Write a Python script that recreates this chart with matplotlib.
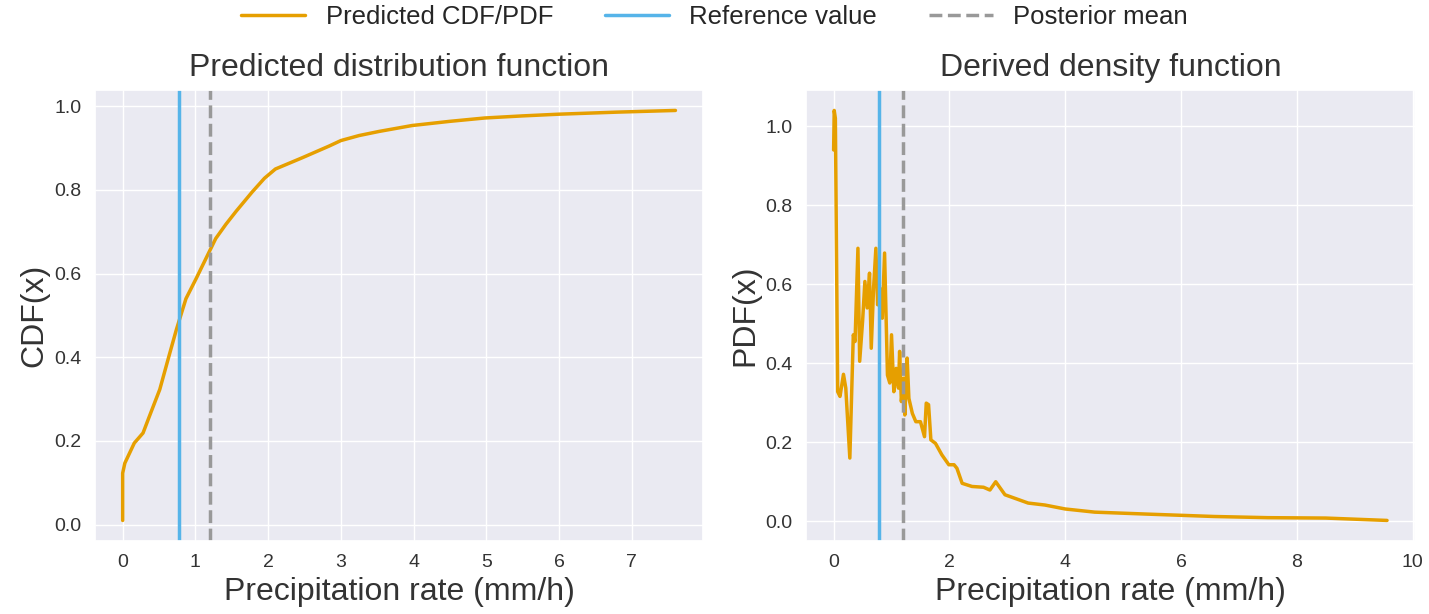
import numpy as np
import matplotlib
matplotlib.use("Agg")
import matplotlib.pyplot as plt
import seaborn as sns
from matplotlib.lines import Line2D

sns.set_theme(style="darkgrid")
plt.rcParams['font.family'] = ['Liberation Sans', 'DejaVu Sans']

# predicted CDF
cdf_x = [0.0, 0.0, 0.03, 0.16, 0.28, 0.37, 0.51, 0.64, 0.74, 0.87, 1.01, 1.17, 1.28, 1.42,
         1.56, 1.78, 1.95, 2.1, 2.47, 2.84, 3.0, 3.25, 3.53, 3.98, 4.5, 4.98, 5.5, 5.99, 6.8, 7.6]
cdf_y = [0.01, 0.123, 0.147, 0.195, 0.219, 0.26, 0.323, 0.405, 0.467, 0.54, 0.588, 0.645, 0.684, 0.718,
         0.749, 0.795, 0.828, 0.85, 0.877, 0.905, 0.918, 0.93, 0.94, 0.954, 0.964, 0.972, 0.977, 0.981, 0.986, 0.99]

# derived PDF
pdf_x = [0.0, 0.01, 0.03, 0.07, 0.11, 0.17, 0.21, 0.28, 0.34, 0.37, 0.42, 0.45, 0.5, 0.54,
         0.58, 0.62, 0.65, 0.69, 0.73, 0.76, 0.8, 0.84, 0.88, 0.93, 0.97, 1.0, 1.04, 1.08,
         1.12, 1.14, 1.17, 1.21, 1.23, 1.27, 1.3, 1.36, 1.42, 1.5, 1.57, 1.6, 1.64, 1.68,
         1.76, 1.87, 1.99, 2.08, 2.13, 2.22, 2.39, 2.59, 2.7, 2.8, 2.96, 3.36, 3.65, 4.0,
         4.51, 5.42, 6.57, 7.5, 8.5, 9.56]
pdf_y = [0.94, 1.04, 1.02, 0.328, 0.316, 0.372, 0.337, 0.16, 0.472, 0.455, 0.691, 0.405, 0.506, 0.607,
         0.54, 0.628, 0.438, 0.59, 0.691, 0.548, 0.59, 0.514, 0.679, 0.37, 0.35, 0.472, 0.328, 0.387,
         0.337, 0.43, 0.303, 0.362, 0.269, 0.413, 0.311, 0.273, 0.252, 0.252, 0.214, 0.299, 0.295, 0.206,
         0.197, 0.168, 0.143, 0.143, 0.134, 0.096, 0.088, 0.086, 0.079, 0.1, 0.067, 0.046, 0.041, 0.031,
         0.023, 0.018, 0.012, 0.009, 0.008, 0.002]

ref_value = 0.78
post_mean = 1.2

c_pred = '#E69F00'
c_ref = '#56B4E9'
c_mean = '#999999'
c_text = '#333333'

fig = plt.figure(figsize=(14.29, 6.14), dpi=100)
ax1 = fig.add_axes([0.0665, 0.119, 0.4255, 0.7345])
ax2 = fig.add_axes([0.564, 0.119, 0.426, 0.7345])

lw = 2.5
ax1.plot(cdf_x, cdf_y, color=c_pred, lw=lw)
ax1.axvline(ref_value, color=c_ref, lw=lw)
ax1.axvline(post_mean, color=c_mean, lw=lw, ls='--')
ax1.set_title('Predicted distribution function', fontsize=23, color=c_text, pad=10)
ax1.set_ylabel('CDF(x)', fontsize=23, color=c_text)
ax1.set_xlabel('Precipitation rate (mm/h)', fontsize=23, color=c_text)

ax2.plot(pdf_x, pdf_y, color=c_pred, lw=lw)
ax2.axvline(ref_value, color=c_ref, lw=lw)
ax2.axvline(post_mean, color=c_mean, lw=lw, ls='--')
ax2.set_title('Derived density function', fontsize=23, color=c_text, pad=10)
ax2.set_ylabel('PDF(x)', fontsize=23, color=c_text)
ax2.set_xlabel('Precipitation rate (mm/h)', fontsize=23, color=c_text)
ax2.set_xticks([0, 2, 4, 6, 8, 10])

for ax in (ax1, ax2):
    ax.tick_params(labelsize=14, labelcolor=c_text)

handles = [Line2D([], [], color=c_pred, lw=lw),
           Line2D([], [], color=c_ref, lw=lw),
           Line2D([], [], color=c_mean, lw=lw, ls='--')]
fig.legend(handles, ['Predicted CDF/PDF', 'Reference value', 'Posterior mean'],
           loc='upper center', bbox_to_anchor=(0.5, 1.03), ncol=3, frameon=False,
           fontsize=18.5, columnspacing=2.0, handlelength=2.5)

fig.savefig('out.png', dpi=100)
